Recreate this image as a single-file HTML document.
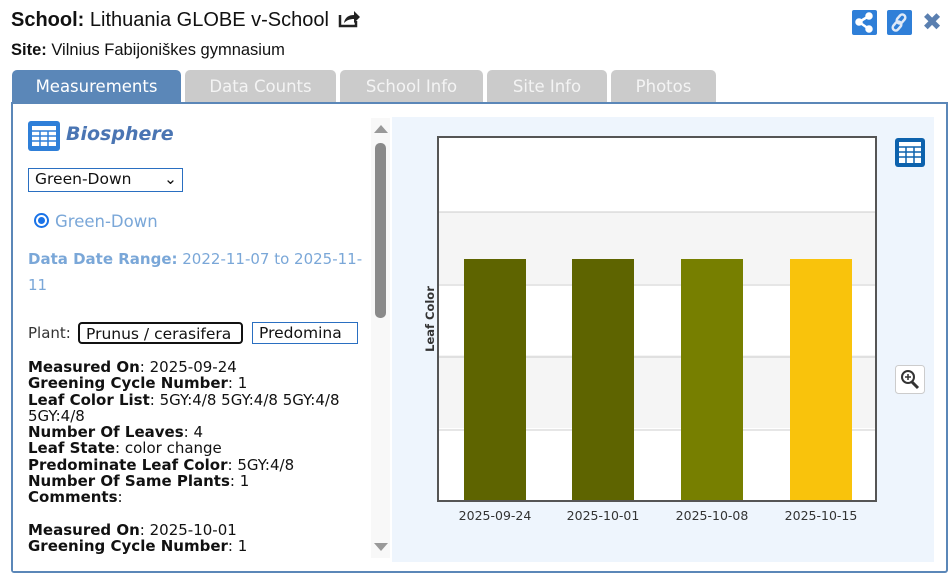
<!DOCTYPE html>
<html><head><meta charset="utf-8"><style>
*{margin:0;padding:0;box-sizing:border-box}
body{width:949px;height:575px;background:#fff;position:relative;overflow:hidden;font-family:"DejaVu Sans",Verdana,sans-serif}
.a{position:absolute}
.tab{position:absolute;top:70px;height:33px;background:#cbcbcb;color:#f4f4f4;border-radius:5px 5px 0 0;font-size:16.5px;text-align:center;line-height:34px}
.t{font-size:15px;line-height:16.3px;color:#111;white-space:nowrap}
.t b{font-weight:bold}
.sel{position:absolute;border:1px solid #2a6fc1;background:#fff;font-size:15.5px;line-height:20px;padding-left:6px;color:#111;white-space:nowrap;overflow:hidden}
</style></head><body>
<div class="a" style="left:11px;top:8px;font-family:'Liberation Sans',sans-serif;font-size:20px;color:#111"><b>School:</b> Lithuania GLOBE v-School
<svg width="22" height="20" viewBox="0 0 22 20" style="vertical-align:-2px;margin-left:4px"><path d="M2 7v11h16v-5" fill="none" stroke="#222" stroke-width="2.5"/><path d="M6 15c1-6 5-8 10-8v-4l6 6-6 6v-4c-4 0-7 1-10 4z" fill="#222"/></svg></div>
<div class="a" style="left:11px;top:41px;font-family:'Liberation Sans',sans-serif;font-size:16.5px;color:#111"><b>Site:</b> Vilnius Fabijoniškes gymnasium</div>
<div class="a" style="left:852px;top:10px;width:25px;height:25px;background:#2f7fd8;border-radius:2px"><svg width="25" height="25"><g stroke="#fff" stroke-width="2.5" fill="#fff"><line x1="17" y1="6" x2="7" y2="12"/><line x1="7" y1="12" x2="17" y2="19"/><circle cx="17" cy="6" r="2.5"/><circle cx="7" cy="12" r="2.5"/><circle cx="17" cy="19" r="2.5"/></g></svg></div>
<div class="a" style="left:887px;top:10px;width:25px;height:25px;background:#2f7fd8;border-radius:2px"><svg width="25" height="25"><g fill="none" stroke="#dfe9f7" stroke-width="2.5"><rect x="11" y="4" width="6" height="10" rx="3" transform="rotate(40 14 9)"/><rect x="7" y="11" width="6" height="10" rx="3" transform="rotate(40 10 16)"/></g></svg></div>
<div class="a" style="left:922px;top:9px;font-size:24px;color:#5a7fb0;font-weight:bold;line-height:26px">✖</div>

<div class="tab" style="left:12px;width:169px;background:#5b87b8;color:#fff">Measurements</div>
<div class="tab" style="left:185px;width:151px">Data Counts</div>
<div class="tab" style="left:340px;width:143px">School Info</div>
<div class="tab" style="left:487px;width:120px">Site Info</div>
<div class="tab" style="left:611px;width:105px">Photos</div>
<div class="a" style="left:11px;top:102px;width:937px;height:471px;border:2px solid #5b87b8;border-radius:0 0 3px 3px"></div>

<div class="a" style="left:28px;top:121px;width:32px;height:30px;background:#2f7fd8;border-radius:3px"><svg width="32" height="30"><rect x="4" y="5" width="24" height="20" fill="#fff"/><g stroke="#2f7fd8" stroke-width="1.5"><line x1="4" y1="10" x2="28" y2="10"/><line x1="4" y1="15" x2="28" y2="15"/><line x1="4" y1="20" x2="28" y2="20"/><line x1="12" y1="10" x2="12" y2="25"/><line x1="20" y1="10" x2="20" y2="25"/></g></svg></div>
<div class="a" style="left:66px;top:123px;font-size:19px;font-weight:bold;font-style:italic;color:#4a75b3">Biosphere</div>
<div class="sel" style="left:28px;top:168px;width:155px;height:24px">Green-Down<span style="position:absolute;right:5px;top:0">⌄</span></div>
<div class="a" style="left:34px;top:213px;width:15px;height:15px;border-radius:50%;border:2px solid #1a73e8"><div style="margin:2px;width:7px;height:7px;border-radius:50%;background:#1a73e8"></div></div>
<div class="a" style="left:55px;top:212px;font-size:16.5px;color:#7aa7d8">Green-Down</div>
<div class="a" style="left:28px;top:246px;font-size:15px;color:#7aa7d8;line-height:26px;width:345px"><b>Data Date Range:</b> 2022-11-07 to 2025-11-<br>11</div>
<div class="a t" style="left:28px;top:325px;color:#333">Plant:</div>
<div class="sel" style="left:78px;top:322px;width:165px;height:22px;border:2px solid #111;border-radius:4px">Prunus / cerasifera</div>
<div class="sel" style="left:252px;top:322px;width:106px;height:22px">Predomina</div>
<div class="a t" style="left:28px;top:359px">
<b>Measured On</b>: 2025-09-24<br><b>Greening Cycle Number</b>: 1<br><b>Leaf Color List</b>: 5GY:4/8 5GY:4/8 5GY:4/8<br>5GY:4/8<br><b>Number Of Leaves</b>: 4<br><b>Leaf State</b>: color change<br><b>Predominate Leaf Color</b>: 5GY:4/8<br><b>Number Of Same Plants</b>: 1<br><b>Comments</b>:<br><br><b>Measured On</b>: 2025-10-01<br><b>Greening Cycle Number</b>: 1</div>
<div class="a" style="left:13px;top:555px;width:358px;height:16px;background:#fff"></div>
<div class="a" style="left:371px;top:118px;width:19px;height:440px;background:#f8f8f8"></div>
<div class="a" style="left:374px;top:125px;width:0;height:0;border-left:7px solid transparent;border-right:7px solid transparent;border-bottom:8px solid #999"></div>
<div class="a" style="left:375px;top:143px;width:11px;height:175px;background:#8a8a8a;border-radius:5px"></div>
<div class="a" style="left:374px;top:543px;width:0;height:0;border-left:7px solid transparent;border-right:7px solid transparent;border-top:8px solid #999"></div>

<div class="a" style="left:392px;top:117px;width:542px;height:445px;background:#eef5fd"></div>
<svg class="a" style="left:392px;top:117px" width="542" height="445">
<rect x="46" y="20" width="438" height="364" fill="#fff"/>
<rect x="46" y="95" width="438" height="72" fill="#f5f5f5"/>
<rect x="46" y="238" width="438" height="73" fill="#f5f5f5"/>
<g stroke="#ccc" stroke-width="1"><line x1="46" y1="95" x2="484" y2="95"/><line x1="46" y1="168" x2="484" y2="168"/><line x1="46" y1="240" x2="484" y2="240"/><line x1="46" y1="313" x2="484" y2="313"/></g>
<rect x="72" y="142" width="62" height="242" fill="#5e6400"/>
<rect x="180" y="142" width="62" height="242" fill="#5e6400"/>
<rect x="289" y="142" width="62" height="242" fill="#777f00"/>
<rect x="398" y="142" width="62" height="242" fill="#f9c30c"/>
<rect x="46" y="20" width="438" height="364" fill="none" stroke="#555" stroke-width="2"/>
<text transform="translate(42,202) rotate(-90)" text-anchor="middle" font-family="DejaVu Sans,sans-serif" font-size="11.5" font-weight="bold" fill="#333">Leaf Color</text>
<g font-family="DejaVu Sans,sans-serif" font-size="12.5" fill="#333" text-anchor="middle"><text x="103" y="403">2025-09-24</text><text x="211" y="403">2025-10-01</text><text x="320" y="403">2025-10-08</text><text x="429" y="403">2025-10-15</text></g>
<rect x="503" y="21" width="30" height="29" rx="3" fill="#0d62ad"/><rect x="507" y="25" width="22" height="21" fill="#fff"/><g stroke="#0d62ad" stroke-width="1.5"><line x1="507" y1="30" x2="529" y2="30"/><line x1="507" y1="35" x2="529" y2="35"/><line x1="507" y1="40" x2="529" y2="40"/><line x1="514" y1="30" x2="514" y2="46"/><line x1="522" y1="30" x2="522" y2="46"/></g>
<rect x="503.5" y="248.5" width="29" height="28" rx="3" fill="#fff" stroke="#ccc"/>
<circle cx="516" cy="260" r="6" fill="none" stroke="#333" stroke-width="2"/><line x1="520" y1="265" x2="526" y2="271" stroke="#333" stroke-width="3"/><line x1="513" y1="260" x2="519" y2="260" stroke="#333" stroke-width="1.5"/><line x1="516" y1="257" x2="516" y2="263" stroke="#333" stroke-width="1.5"/>
</svg>
</body></html>
